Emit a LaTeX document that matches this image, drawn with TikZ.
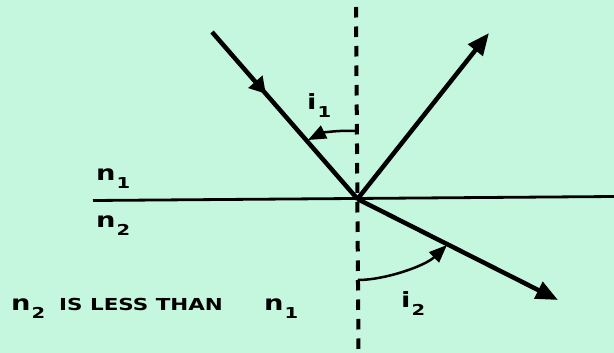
\documentclass[tikz,border=0pt]{standalone}
\usepackage{fontspec}
\setmainfont{DejaVu Sans}[FakeStretch=1.3]
\usepackage{xcolor}
\usepackage{tikz}
\usetikzlibrary{arrows.meta, decorations.markings}

\definecolor{mint}{RGB}{197,247,222}
\newcommand{\sublabel}[2]{#1\hspace{1pt}\raisebox{-8pt}{\fontsize{15}{15}\selectfont #2}}

\begin{document}
\begin{tikzpicture}[x=1pt, y=-1pt,
    ray/.style={line width=4.5pt, line join=round},
    endtip/.style={-{Triangle[length=22pt, width=18pt]}},
    midtip/.style={postaction={decorate, decoration={markings,
      mark=at position 0.37 with {\arrow{Triangle[length=16pt, width=18pt]}}}}},
    angarc/.style={line width=2.5pt, -{Triangle[length=18pt, width=14pt]}},
    lbl/.style={anchor=base west, inner sep=0pt, font=\bfseries\fontsize{21}{21}\selectfont},
    caps/.style={anchor=base west, inner sep=0pt, font=\bfseries\fontsize{16.5}{16.5}\selectfont}]
    % Background
    \fill[mint] (0,0) rectangle (614,353);
    \useasboundingbox (0,0) rectangle (614,353);

    % Points
    \coordinate (O) at (357.5,199);
    \coordinate (normtop) at (356,7);
    \coordinate (normbot) at (358.5,353);
    \coordinate (left) at (93,200.5);
    \coordinate (right) at (614,196.5);
    \coordinate (inc) at (212,32);
    \coordinate (refl) at (489,33);
    \coordinate (refr) at (558,300);

    % Normal and interface
    \draw[line width=4pt, dash pattern=on 10.5pt off 9pt] (normtop) -- (normbot);
    \draw[line width=2.8pt] (left) -- (right);

    % Rays
    \draw[ray, midtip] (inc) -- (O);
    \draw[ray, endtip] (O) -- (refl);
    \draw[ray, endtip] (O) -- (refr);

    % Angles
    \coordinate (a1s) at (355,131);
    \coordinate (a1e) at (308,140);
    \draw[angarc] (a1s) .. controls (338,130) and (322,133) .. (a1e);
    \coordinate (a2s) at (358,280);
    \coordinate (a2e) at (447,245);
    \draw[angarc] (a2s) .. controls (385,280) and (425,266) .. (a2e);

    % Labels
    \node[lbl] (n1top) at (96,180) {\sublabel{n}{1}};
    \node[lbl] (n2top) at (96,227) {\sublabel{n}{2}};
    \node[lbl] (i1) at (307,110) {\sublabel{i}{1}};
    \node[lbl] (i2) at (401,307) {\sublabel{i}{2}};
    \node[lbl] (n2bot) at (11,310) {\sublabel{n}{2}};
    \node[caps] (less) at (59,310) {IS LESS THAN};
    \node[lbl] (n1bot) at (264,310) {\sublabel{n}{1}};
\end{tikzpicture}
\end{document}
